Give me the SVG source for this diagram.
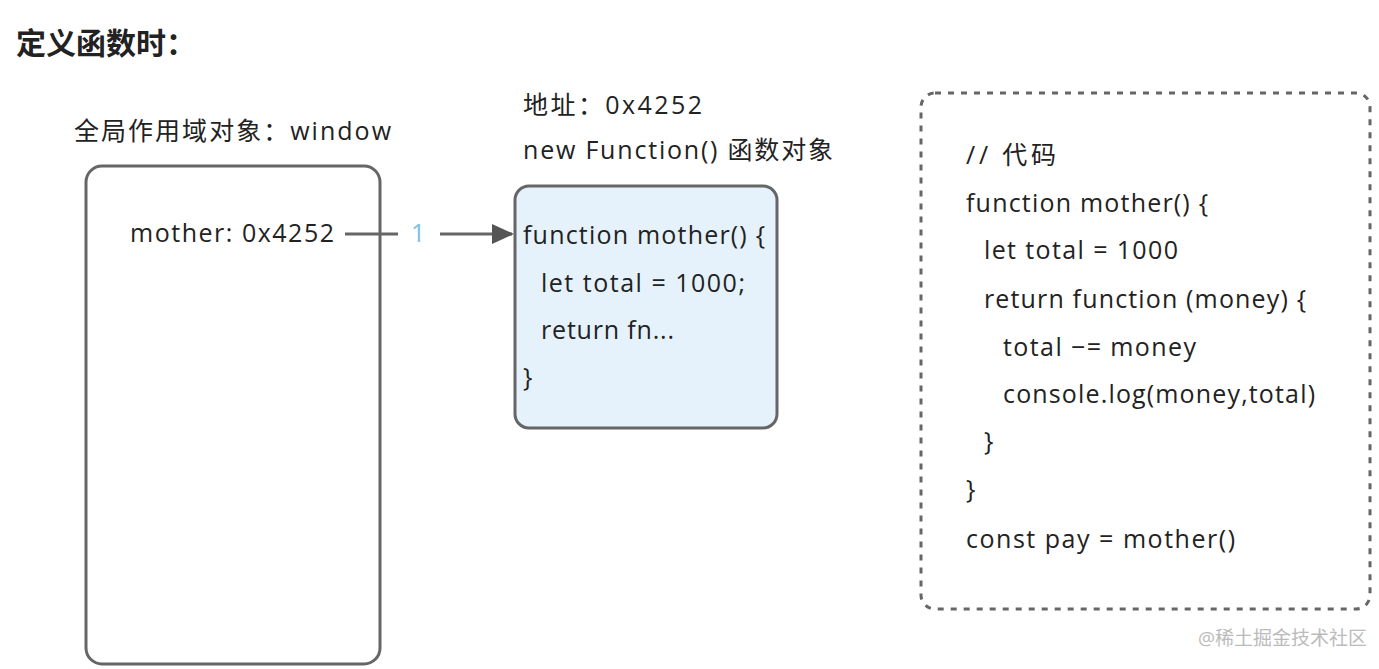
<svg xmlns="http://www.w3.org/2000/svg" width="1379" height="669" viewBox="0 0 1379 669">
<style>
text{font-family:"Open Sans","Noto Sans CJK SC",sans-serif;font-size:25px;fill:#222}
.box{fill:#fff;stroke:#666;stroke-width:3}
.ln{stroke:#666;stroke-width:3;fill:none}
</style>
<defs>
<marker id="a2" markerWidth="22" markerHeight="20" refX="20" refY="10" orient="auto" markerUnits="userSpaceOnUse"><path d="M0,0L22,10L0,20z" fill="#555"/></marker></defs>
<rect width="1379" height="669" fill="#fff"/>
<text x="16" y="54" style="font-size:30px;font-weight:bold">定义函数时：</text>
<g id="window">
<text x="74" y="140" textLength="317">全局作用域对象：window</text>
<rect class="box" x="86" y="166" width="294" height="498" rx="16"/>
<text x="130" y="242" textLength="204">mother: 0x4252</text>
</g>
<g id="func">
<text x="523" y="114" textLength="179">地址：0x4252</text>
<text x="523" y="159" textLength="310">new Function() 函数对象</text>
<rect x="515" y="186" width="262" height="242" rx="14" fill="#e5f2fc" stroke="#666" stroke-width="3"/>
<text x="523" y="244" textLength="242">function mother() {</text>
<text x="541" y="292" textLength="204">let total = 1000;</text>
<text x="541" y="339" textLength="133">return fn...</text>
<text x="523" y="386">}</text>
</g>
<g id="code">
<rect x="921" y="93" width="449" height="516" rx="14" fill="none" stroke="#666" stroke-width="3" stroke-dasharray="6,7"/>
<text x="966" y="164" textLength="90">// 代码</text>
<text x="966" y="212" textLength="242">function mother() {</text>
<text x="984" y="259" textLength="194">let total = 1000</text>
<text x="984" y="308" textLength="322">return function (money) {</text>
<text x="1003" y="356" textLength="193">total −= money</text>
<text x="1003" y="403" textLength="312">console.log(money,total)</text>
<text x="984" y="450">}</text>
<text x="966" y="498">}</text>
<text x="966" y="548" textLength="269">const pay = mother()</text>
</g>
<g id="connectors">
<path class="ln" d="M345,234H398"/>
<path class="ln" d="M440,234H512" marker-end="url(#a2)"/>
<text x="411" y="242" style="fill:#7ec0e6">1</text>
</g>
<text x="1198" y="645" style="font-size:19px;fill:#bbb">@稀土掘金技术社区</text>
</svg>
